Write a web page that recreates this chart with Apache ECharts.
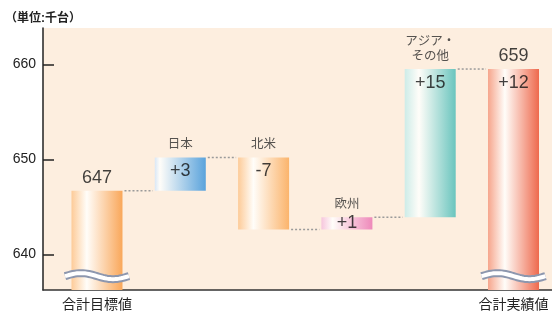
<!DOCTYPE html>
<html>
<head>
<meta charset="utf-8">
<script src="https://cdn.jsdelivr.net/npm/echarts@6/dist/echarts.min.js"></script>
<style>
  html, body { margin: 0; padding: 0; background: #fff; }
  #chart { width: 552px; height: 313px; }
</style>
</head>
<body>
<div id="chart"></div>
<script>
// valores (escala do eixo, nao os rotulos arredondados)
var xLabels = ['合計目標値', '', '', '', '', '合計実績値'];
var topLabels = ['647', '日本', '北米', '欧州', 'アジア・\nその他', '659'];
var innerLabels = ['', '+3', '-7', '+1', '+15', '+12'];
var barLow = [636.24, 646.7, 642.6, 642.6, 643.9, 636.24];
var barHigh = [646.7, 650.2, 650.2, 643.9, 659.5, 659.5];
var linkLevels = [646.7, 650.2, 642.6, 643.9, 659.5];
var yTicks = [640, 650, 660];
var breakAt = [0, 5];
var breakLevel = 637.7;

var BAR_W = 51;
var FONT = '"Liberation Sans", "Noto Sans CJK JP", sans-serif';

// gradiente horizontal: borda esquerda, brilho branco, borda direita
var palette = [
  ['#FDCB98', 0.3, '#F9A75A'],
  ['#D9E7F6', 0.1, '#5AA3DC'],
  ['#FDCB98', 0.3, '#FBB46C'],
  ['#F6C6DD', 0.22, '#EE89BA'],
  ['#CDECE8', 0.28, '#6AC5BE'],
  ['#F6A58C', 0.33, '#EE694D']
];

function grad(p) {
  return new echarts.graphic.LinearGradient(0, 0, 1, 0, [
    { offset: 0, color: p[0] },
    { offset: p[1], color: '#FFFDF9' },
    { offset: 1, color: p[2] }
  ]);
}

var chart = echarts.init(document.getElementById('chart'));

var topData = barHigh.map(function (h, i) {
  var isNum = i === 0 || i === 5;
  return {
    value: [i, h],
    label: {
      formatter: topLabels[i],
      color: isNum ? '#111' : '#2a2a2a',
      fontSize: isNum ? 18 : 12.5,
      lineHeight: isNum ? 20 : 15,
      distance: isNum ? 3 : 5
    }
  };
});

var innerData = [];
innerLabels.forEach(function (t, i) {
  if (!t) return;
  var mid = i === 3;
  innerData.push({
    value: [i, mid ? (barLow[i] + barHigh[i]) / 2 : barHigh[i]],
    label: { formatter: t, position: mid ? 'inside' : 'bottom', distance: 5 }
  });
});

chart.setOption({
  animation: false,
  title: {
    text: '（単位:千台）', left: 0, top: 8,
    textStyle: { fontSize: 12, fontWeight: 'bold', color: '#222', fontFamily: FONT }
  },
  grid: { left: 43, right: 0, top: 28, bottom: 23, show: true, backgroundColor: '#FDEEDF', borderWidth: 0 },
  xAxis: {
    type: 'value', min: -0.648, max: 5.462,
    axisLine: { show: true, onZero: false, lineStyle: { color: '#333', width: 1.5 } },
    axisTick: { show: false },
    splitLine: { show: false },
    axisLabel: {
      customValues: [0, 5], margin: 8, fontSize: 14, color: '#222', fontFamily: FONT,
      formatter: function (v) { return xLabels[Math.round(v)]; }
    }
  },
  yAxis: {
    type: 'value', min: 636.24, max: 663.82,
    axisLine: { show: true, onZero: false, lineStyle: { color: '#222', width: 1.5 } },
    axisTick: { show: true, inside: true, length: 11, customValues: yTicks, lineStyle: { color: '#222', width: 1.5 } },
    splitLine: { show: false },
    axisLabel: { customValues: yTicks, margin: 7, fontSize: 14, color: '#222', fontFamily: FONT }
  },
  series: [
    {
      // barras em cascata: de barLow ate barHigh
      type: 'custom', silent: true, z: 2,
      data: barHigh.map(function (h, i) { return [i, barLow[i], h]; }),
      renderItem: function (params, api) {
        var i = api.value(0);
        var lo = api.coord([i, api.value(1)]);
        var hi = api.coord([i, api.value(2)]);
        return {
          type: 'rect',
          shape: { x: hi[0] - BAR_W / 2, y: hi[1], width: BAR_W, height: lo[1] - hi[1] },
          style: { fill: grad(palette[params.dataIndex]) }
        };
      }
    },
    {
      type: 'scatter', symbolSize: 0, silent: true, z: 4,
      label: { show: true, position: 'top', fontFamily: FONT },
      data: topData
    },
    {
      type: 'scatter', symbolSize: 0, silent: true, z: 4,
      label: { show: true, color: '#111', fontSize: 18, fontFamily: FONT },
      data: innerData
    },
    {
      // linhas pontilhadas entre as barras
      type: 'custom', silent: true,
      data: linkLevels.map(function (v, i) { return [i, v]; }),
      renderItem: function (params, api) {
        var i = api.value(0), lv = api.value(1);
        var a = api.coord([i, lv]), b = api.coord([i + 1, lv]);
        return {
          type: 'line',
          shape: { x1: a[0] + BAR_W / 2 + 2, y1: a[1], x2: b[0] - BAR_W / 2 - 2, y2: b[1] },
          style: { stroke: '#9A9A9A', lineWidth: 1.5, lineDash: [2, 2] }
        };
      }
    },
    {
      // marca de quebra do eixo
      type: 'custom', silent: true, z: 5,
      data: breakAt.map(function (i) { return [i, breakLevel]; }),
      renderItem: function (params, api) {
        var c = api.coord([api.value(0), api.value(1)]);
        var pts = [];
        for (var x = -32; x <= 32; x += 2) {
          pts.push([c[0] + x, c[1] - 3 * Math.sin(Math.PI * (x + 32) / 32)]);
        }
        return {
          type: 'group',
          children: [
            { type: 'polyline', shape: { points: pts }, style: { stroke: '#8D97AE', lineWidth: 8, fill: null } },
            { type: 'polyline', shape: { points: pts }, style: { stroke: '#FFFFFF', lineWidth: 4, fill: null } }
          ]
        };
      }
    }
  ]
});
</script>
</body>
</html>
